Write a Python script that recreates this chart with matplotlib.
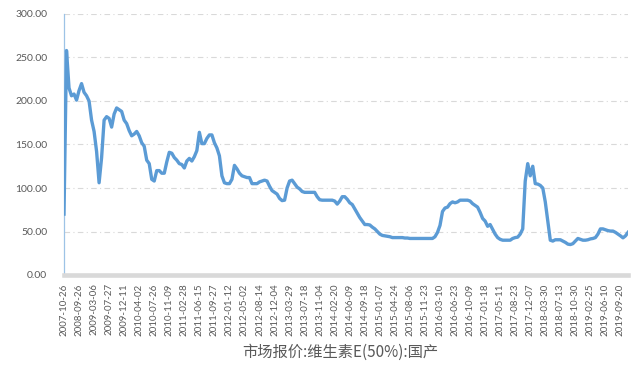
import numpy as np
import matplotlib
matplotlib.use('Agg')
import matplotlib.pyplot as plt

# category labels, one shown every 6 points
tick_labels = ['2007-10-26', '2008-09-26', '2009-03-06', '2009-07-27', '2009-12-11',
               '2010-04-02', '2010-07-26', '2010-11-09', '2011-02-28', '2011-06-15',
               '2011-09-27', '2012-01-12', '2012-05-02', '2012-08-14', '2012-12-04',
               '2013-03-29', '2013-07-18', '2013-11-04', '2014-02-20', '2014-06-09',
               '2014-09-18', '2015-01-07', '2015-04-24', '2015-08-06', '2015-11-23',
               '2016-03-10', '2016-06-23', '2016-10-09', '2017-01-18', '2017-05-11',
               '2017-08-23', '2017-12-07', '2018-03-30', '2018-07-13', '2018-10-30',
               '2019-02-25', '2019-06-10', '2019-09-20']
points_per_tick = 6

# 市场报价:维生素E(50%):国产
price = [70, 258, 215, 206, 208, 201, 212, 220, 210, 206,
         200, 178, 165, 142, 106, 135, 178, 182, 180, 170,
         185, 192, 190, 188, 178, 174, 166, 160, 162, 165,
         160, 152, 148, 132, 128, 110, 108, 120, 120, 117,
         117, 130, 141, 140, 135, 132, 128, 127, 123, 131,
         134, 131, 136, 143, 164, 151, 151, 157, 161, 161,
         152, 146, 137, 114, 106, 105, 105, 110, 126, 122,
         117, 114, 113, 112, 112, 105, 105, 105, 107, 108,
         109, 108, 102, 97, 95, 93, 88, 85.5, 86, 100,
         108, 109, 105, 101, 99, 96, 95, 95, 95, 95,
         95, 90, 86.5, 86, 86, 86, 86, 86, 85, 81.5,
         85, 90, 90, 87, 83, 81, 76, 71, 66, 62,
         58, 58, 57.5, 55, 53, 50, 47, 45.5, 45, 44.5,
         44, 43, 43, 43, 43, 43, 42.5, 42.5, 42, 42,
         42, 42, 42, 42, 42, 42, 42, 42, 44, 49,
         57, 73, 77, 78, 82, 84, 83, 84, 86, 86,
         86, 86, 85, 82, 80, 78, 72, 65, 62, 56,
         58, 52.5, 47, 43, 41, 40, 40, 40, 40, 42,
         43, 43.5, 47, 53, 108, 128, 114, 125, 105, 104.5,
         103, 100, 84, 62, 40, 39, 40.5, 40.5, 40.5, 39,
         37.5, 35.5, 35, 36, 39, 42, 41, 40, 40, 40.5,
         41.5, 42, 43, 47, 53, 53, 52, 51, 50.5, 50.5,
         49, 47, 45, 42.7, 45, 49]

series_name = '市场报价:维生素E(50%):国产'

text_grey = '#595959'
line_blue = '#5b9bd5'

fig = plt.figure(figsize=(6.35, 3.65), dpi=100)
ax = fig.add_axes([64 / 635, 1 - 275 / 365, 564 / 635, 261 / 365])

x = np.arange(len(price))
ax.plot(x, price, color=line_blue, lw=2.4, solid_joinstyle='round', zorder=3)

ax.set_xlim(0, len(price) - 1)
ax.set_ylim(0, 300)

ax.set_yticks(np.arange(0, 301, 50))
ax.set_yticklabels(['%.2f' % v for v in np.arange(0, 301, 50)],
                   fontsize=7.5, color=text_grey, family='Lato')
ax.set_xticks(x[::points_per_tick][:len(tick_labels)])
ax.set_xticklabels(tick_labels, rotation=90, fontsize=7, color=text_grey,
                   family='Lato', ha='center', va='top')
ax.tick_params(axis='both', length=0)
ax.tick_params(axis='y', pad=12)
ax.tick_params(axis='x', pad=6)

ax.yaxis.grid(True, color='#d9d9d9', lw=0.8, dashes=(5, 3, 1, 3))
ax.set_axisbelow(True)

for side in ['top', 'right']:
    ax.spines[side].set_visible(False)
ax.spines['left'].set_color('#9dc3e6')
ax.spines['left'].set_linewidth(0.9)
ax.spines['bottom'].set_color('#d9d9d9')
ax.spines['bottom'].set_linewidth(3.3)

fig.text(340 / 635, 1 - 352 / 365, series_name, ha='center', va='center',
         fontsize=11, color=text_grey, family=['Noto Sans CJK SC', 'DejaVu Sans'])

fig.savefig('out.png', dpi=100)
